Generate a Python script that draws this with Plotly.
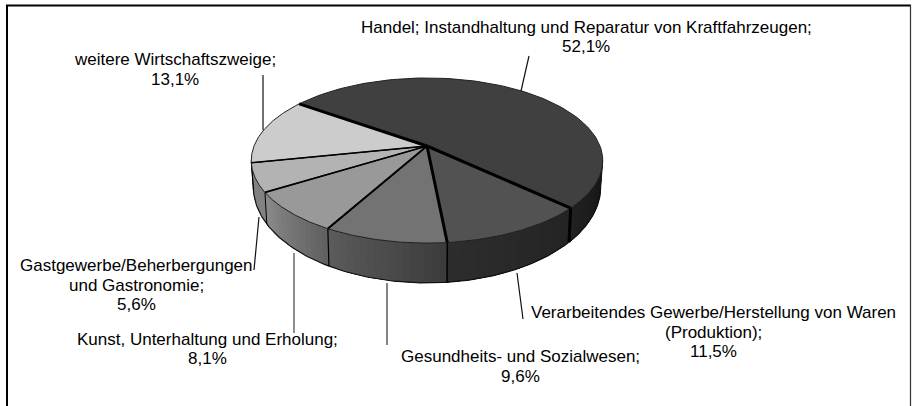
import numpy as np
import plotly.graph_objects as go

# Data
categories = [
    "Handel; Instandhaltung und Reparatur von Kraftfahrzeugen;",
    "Verarbeitendes Gewerbe/Herstellung von Waren|(Produktion);",
    "Gesundheits- und Sozialwesen;",
    "Kunst, Unterhaltung und Erholung;",
    "Gastgewerbe/Beherbergungen|und Gastronomie;",
    "weitere Wirtschaftszweige;",
]
values = [52.1, 11.5, 9.6, 8.1, 5.6, 13.1]

# Styles
top_colors = ["#404040", "#525252", "#737373", "#999999", "#b3b3b3", "#cccccc"]
side_colors = [((20, 20, 20), (34, 34, 34)), ((36, 36, 36), (46, 46, 46)), ((60, 60, 60), (92, 92, 92)),
               ((96, 96, 96), (140, 140, 140)), ((130, 130, 130), (130, 130, 130)), ((130, 130, 130), (130, 130, 130))]
edge_widths = [3, 3, 3, 2, 1.4, 1.4]      # radial edge at the start of each slice
side_edge_widths = [1, 3, 1.5, 1.2, 1, 1]
label_x = [586, 713, 520, 207, 136, 175]
label_y = [[27, 46], [312, 332, 351], [356, 376], [339, 358], [265, 285, 304], [59, 79]]
leaders = [((521, 91), (529, 56)), ((517, 273), (523, 319)), ((387, 283), (387, 345)),
           ((294, 253), (294, 333)), ((259, 217), (254, 270)), ((263, 130), (263, 75))]
leader_colors = ["#111", "#111", "#333", "#444", "#111", "#111"]
START = -54.5
CX, CY, K = 427, 146, 0.176
TOP = dict(b=173, a=80, cy=CY)
BOT = dict(b=171, a=93, cy=170)
VIS0, VIS1 = 100, 260


def proj(t_deg, g):
    t = np.radians(np.asarray(t_deg, dtype=float))
    u, v = np.sin(t), -np.cos(t)
    d = 1 - K * v
    return CX + g["b"] * u / d, g["cy"] + g["a"] * v / d


def poly(xs, ys, fill, lw=0, lc=None):
    return go.Scatter(x=list(xs), y=list(ys), mode="lines", fill="toself", fillcolor=fill,
                      line=dict(color=lc or fill, width=lw), hoverinfo="skip", showlegend=False)


def line(xs, ys, width, color="#000000"):
    return go.Scatter(x=list(xs), y=list(ys), mode="lines", line=dict(color=color, width=width),
                      hoverinfo="skip", showlegend=False)


angles = START + np.concatenate([[0], np.cumsum(values)]) * 3.6
fig = go.Figure()

# Sides with a horizontal shading (each strip overlaps all later ones, so no seams)
for i in range(len(values)):
    a0, a1 = max(angles[i], VIS0), min(angles[i + 1], VIS1)
    if a1 <= a0:
        continue
    n = max(2, int((a1 - a0) / 2))
    edges = np.linspace(a0, a1, n + 1)
    c0, c1 = side_colors[i]
    for j in range(n):
        f = (j + 0.5) / n
        col = tuple(int(c0[k] + (c1[k] - c0[k]) * f) for k in range(3))
        ts = np.linspace(edges[j], a1, 24)
        tx, ty = proj(ts, TOP)
        bx, by = proj(ts[::-1], BOT)
        fig.add_trace(poly(np.r_[tx, bx, tx[0]], np.r_[ty, by, ty[0]], "rgb(%d,%d,%d)" % col))

# Bottom rim and side silhouettes
ts = np.linspace(VIS0, VIS1, 200)
fig.add_trace(line(*proj(ts, BOT), 1.2, "#111111"))
for tv in (VIS0, VIS1):
    x0, y0 = proj(tv, TOP)
    x1, y1 = proj(tv, BOT)
    fig.add_trace(line([x0, x1], [y0, y1], 1, "#111111"))

# Vertical side edges
for i in range(1, len(values)):
    if VIS0 < angles[i] < VIS1:
        x0, y0 = proj(angles[i], TOP)
        x1, y1 = proj(angles[i], BOT)
        fig.add_trace(line([x0, x1], [y0, y1], side_edge_widths[i]))

# Top faces
for i in range(len(values)):
    ts = np.linspace(angles[i], angles[i + 1], 120)
    x, y = proj(ts, TOP)
    fig.add_trace(poly(np.r_[CX, x, CX], np.r_[CY, y, CY], top_colors[i], 1, "#222222"))

# Radial edges
for i in range(len(values)):
    x, y = proj(angles[i], TOP)
    fig.add_trace(line([CX, x], [CY, y], edge_widths[i]))

# Leader lines
for (p0, p1), col in zip(leaders, leader_colors):
    fig.add_trace(line([p0[0], p1[0]], [p0[1], p1[1]], 1.2, col))

# Labels
for cat, val, lx, ys in zip(categories, values, label_x, label_y):
    rows = cat.split("|") + [f"{val:.1f}%".replace(".", ",")]
    for row, ly in zip(rows, ys):
        fig.add_annotation(x=lx, y=ly, text=row, showarrow=False, xref="x", yref="y",
                           xanchor="center", yanchor="middle", align="center",
                           font=dict(family="Liberation Sans", size=17, color="#000000"))

# Frame
fig.add_shape(type="line", x0=7, x1=7, y0=5, y1=406, line=dict(color="#000", width=2))
fig.add_shape(type="line", x0=6, x1=911, y0=5.5, y1=5.5, line=dict(color="#000", width=2))
fig.add_shape(type="line", x0=910.5, x1=910.5, y0=5, y1=406, line=dict(color="#333", width=1.2))

fig.update_layout(
    width=912, height=406, margin=dict(l=0, r=0, t=0, b=0), autosize=False,
    paper_bgcolor="#ffffff", plot_bgcolor="#ffffff", showlegend=False,
    xaxis=dict(range=[0, 912], visible=False, fixedrange=True),
    yaxis=dict(range=[406, 0], visible=False, fixedrange=True),
)
fig.write_html("out.html", config={"displayModeBar": False},
               post_script="document.body.style.margin='0';")
